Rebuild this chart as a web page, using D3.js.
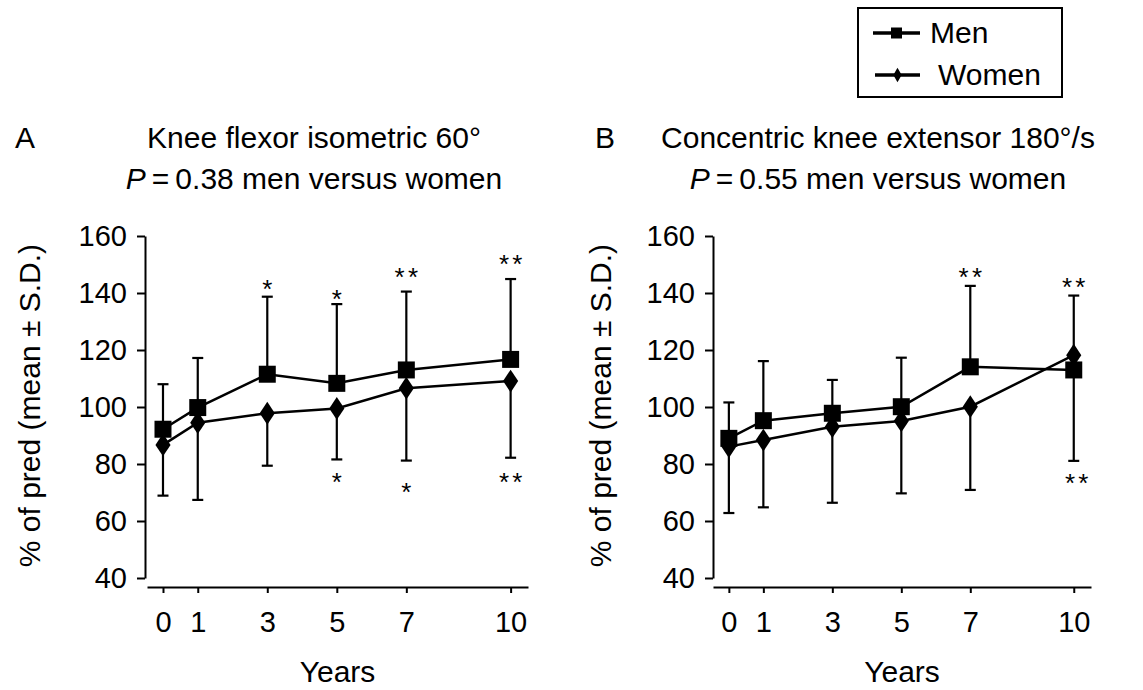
<!DOCTYPE html>
<html>
<head>
<meta charset="utf-8">
<script src="https://cdn.jsdelivr.net/npm/d3@7"></script>
<style>
  html, body { margin: 0; padding: 0; background: #fff; }
  svg { display: block; font-family: "Liberation Sans", Arial, Helvetica, sans-serif; }
</style>
</head>
<body>
<svg id="chart" width="1143" height="690"></svg>
<script>
// ---------- data ----------
const years = [0, 1, 3, 5, 7, 10];
const yTicks = [40, 60, 80, 100, 120, 140, 160];

// Panel A: Knee flexor isometric 60°
const menA      = [92.2, 99.8, 111.5, 108.3, 113.0, 116.7];
const menSDA    = [15.8, 17.4, 27.2, 27.8, 27.5, 28.2];
const womenA    = [86.7, 94.5, 97.8, 99.5, 106.6, 109.1];
const womenSDA  = [17.8, 27.1, 18.4, 17.9, 25.4, 26.9];
const starsA = [
  { year: 3,  value: 143.6, n: 1 },
  { year: 5,  value: 139.9, n: 1 },
  { year: 5,  value: 75.9,  n: 1 },
  { year: 7,  value: 147.8, n: 2 },
  { year: 7,  value: 72.3,  n: 1 },
  { year: 10, value: 152.2, n: 2 },
  { year: 10, value: 75.9,  n: 2 }
];

// Panel B: Concentric knee extensor 180°/s
const menB      = [89.0, 95.2, 97.8, 100.1, 114.1, 113.0];
const menSDB    = [12.6, 20.9, 11.7, 17.2, 28.4, 26.1];
const womenB    = [86.1, 88.4, 93.1, 95.1, 100.1, 118.2];
const womenSDB  = [23.3, 23.6, 26.7, 25.4, 29.2, 37.1];
const starsB = [
  { year: 7,  value: 147.8, n: 2 },
  { year: 10, value: 144.2, n: 2 },
  { year: 10, value: 75.3,  n: 2, dx: 3 }
];

const titlesA = ["Knee flexor isometric 60\u00B0", "0.38 men versus women"];
const titlesB = ["Concentric knee extensor 180\u00B0/s", "0.55 men versus women"];
const yLabel = "% of pred (mean \u00B1 S.D.)";
const xLabel = "Years";
const seriesNames = ["Men", "Women"];

// ---------- drawing ----------
const svg = d3.select("#chart");
const FONT = 30;
const TICKFONT = 29;

function panel(cfg) {
  const x = d3.scaleLinear().domain([-0.46, 10.5]).range([cfg.x0, cfg.x1]);
  const y = d3.scaleLinear().domain([40, 160]).range([578, 236]);
  const g = svg.append("g");

  // y axis
  const ya = g.append("g")
    .attr("transform", `translate(${cfg.yAxisX},0)`)
    .call(d3.axisLeft(y).tickValues(yTicks).tickSize(8).tickSizeOuter(0).tickPadding(10));
  ya.selectAll("path, line").attr("stroke", "#000").attr("stroke-width", 2);
  ya.selectAll("text").attr("font-size", TICKFONT).attr("fill", "#000")
    .attr("font-family", "Liberation Sans, Arial, sans-serif");

  // x axis
  const xa = g.append("g")
    .attr("transform", `translate(0,587)`)
    .call(d3.axisBottom(x).tickValues(years).tickSize(6).tickSizeOuter(0).tickPadding(18));
  xa.selectAll("path, line").attr("stroke", "#000").attr("stroke-width", 2);
  xa.selectAll("text").attr("font-size", TICKFONT).attr("fill", "#000")
    .attr("font-family", "Liberation Sans, Arial, sans-serif");

  // axis labels
  g.append("text")
    .attr("transform", `translate(${cfg.yLabelX},${y(100.5)}) rotate(-90)`)
    .attr("text-anchor", "middle").attr("dominant-baseline", "central")
    .attr("font-size", FONT).text(yLabel);
  g.append("text")
    .attr("x", (cfg.x0 + cfg.x1) / 2).attr("y", 682)
    .attr("text-anchor", "middle").attr("font-size", FONT).text(xLabel);

  // titles
  g.append("text").attr("x", cfg.letterX).attr("y", 148)
    .attr("font-size", FONT).text(cfg.letter);
  g.append("text").attr("x", cfg.titleX).attr("y", 148)
    .attr("text-anchor", "middle").attr("font-size", FONT).text(cfg.titles[0]);
  const t2 = g.append("text").attr("x", cfg.titleX).attr("y", 189)
    .attr("text-anchor", "middle").attr("font-size", FONT);
  t2.append("tspan").attr("font-style", "italic").text("P");
  t2.append("tspan").text("\u2009=\u2009" + cfg.titles[1]);

  // error bars (men upward, women downward)
  const cap = 5.5;
  const bars = [];
  years.forEach((yr, i) => {
    bars.push({ yr, from: cfg.men[i], to: cfg.men[i] + cfg.menSD[i] });
    bars.push({ yr, from: cfg.women[i], to: cfg.women[i] - cfg.womenSD[i] });
  });
  const eb = g.append("g").attr("stroke", "#000").attr("stroke-width", 2.2);
  eb.selectAll("line.v").data(bars).join("line")
    .attr("x1", d => x(d.yr)).attr("x2", d => x(d.yr))
    .attr("y1", d => y(d.from)).attr("y2", d => y(d.to));
  eb.selectAll("line.c").data(bars).join("line")
    .attr("x1", d => x(d.yr) - cap).attr("x2", d => x(d.yr) + cap)
    .attr("y1", d => y(d.to)).attr("y2", d => y(d.to));

  // lines
  const line = d3.line().x((d, i) => x(years[i])).y(d => y(d));
  g.append("path").datum(cfg.men).attr("d", line)
    .attr("fill", "none").attr("stroke", "#000").attr("stroke-width", 2.5);
  g.append("path").datum(cfg.women).attr("d", line)
    .attr("fill", "none").attr("stroke", "#000").attr("stroke-width", 2.5);

  // markers
  const sq = d3.symbol().type(d3.symbolSquare).size(17 * 17);
  const dm = d3.symbol().type(d3.symbolDiamond).size(150);
  g.selectAll("path.w").data(cfg.women).join("path")
    .attr("transform", (d, i) => `translate(${x(years[i])},${y(d)}) scale(1.15,1)`)
    .attr("d", dm).attr("fill", "#000");
  g.selectAll("path.m").data(cfg.men).join("path")
    .attr("transform", (d, i) => `translate(${x(years[i])},${y(d)})`)
    .attr("d", sq).attr("fill", "#000");

  // significance stars
  const sp = 13.3;
  cfg.stars.forEach(s => {
    for (let k = 0; k < s.n; k++) {
      const off = (k - (s.n - 1) / 2) * sp + (s.dx || 0);
      g.append("text")
        .attr("x", x(s.year) + off).attr("y", y(s.value) + 15)
        .attr("text-anchor", "middle").attr("font-size", 26).text("*");
    }
  });
}

panel({ x0: 147, x1: 528, yAxisX: 145, yLabelX: 29, letter: "A", letterX: 15, titleX: 314,
        titles: titlesA, men: menA, menSD: menSDA, women: womenA, womenSD: womenSDA, stars: starsA });
panel({ x0: 713, x1: 1091, yAxisX: 713, yLabelX: 600, letter: "B", letterX: 595, titleX: 878,
        titles: titlesB, men: menB, menSD: menSDB, women: womenB, womenSD: womenSDB, stars: starsB });

// legend
const lg = svg.append("g");
lg.append("rect").attr("x", 858).attr("y", 8).attr("width", 204).attr("height", 89)
  .attr("fill", "#fff").attr("stroke", "#000").attr("stroke-width", 2);
const legendRows = [
  { name: seriesNames[0], y: 33, lx0: 873, lx1: 920, tx: 930, sym: d3.symbol().type(d3.symbolSquare).size(121) },
  { name: seriesNames[1], y: 75, lx0: 875, lx1: 920, tx: 938, sym: d3.symbol().type(d3.symbolDiamond).size(60) }
];
legendRows.forEach(r => {
  lg.append("line").attr("x1", r.lx0).attr("x2", r.lx1).attr("y1", r.y).attr("y2", r.y)
    .attr("stroke", "#000").attr("stroke-width", 3.5);
  lg.append("path").attr("d", r.sym).attr("transform", `translate(${(r.lx0 + r.lx1) / 2},${r.y})`)
    .attr("fill", "#000");
  lg.append("text").attr("x", r.tx).attr("y", r.y + 10).attr("font-size", FONT).text(r.name);
});
</script>
</body>
</html>
